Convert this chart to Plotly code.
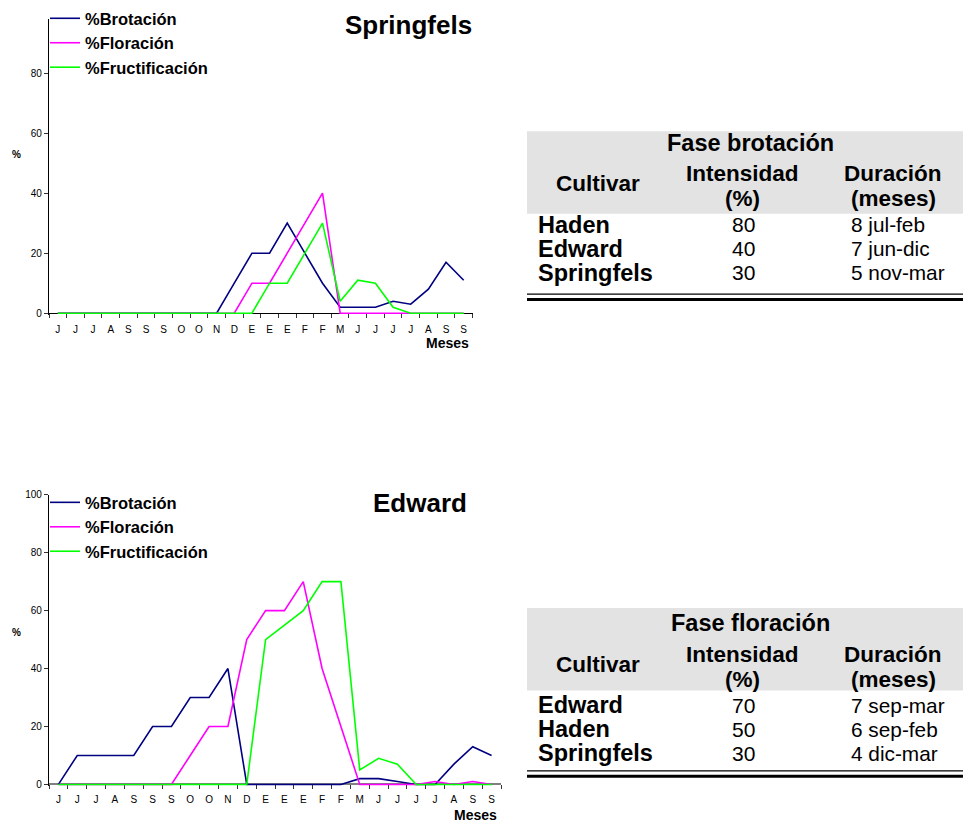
import plotly.graph_objects as go

W, H = 963, 823
FONT = "Liberation Sans, Arial, sans-serif"

# ---------------- data ----------------
months = ["J", "J", "J", "A", "S", "S", "S", "O", "O", "N", "D", "E",
          "E", "E", "F", "F", "M", "J", "J", "J", "J", "A", "S", "S"]
series_names = ["%Brotación", "%Floración", "%Fructificación"]

spr_brotacion = [0, 0, 0, 0, 0, 0, 0, 0, 0, 0, 10, 20, 20, 30, 20, 10, 2, 2, 2, 4, 3, 8, 17, 11]
spr_floracion = [0, 0, 0, 0, 0, 0, 0, 0, 0, 0, 0, 10, 10, 20, 30, 40, 0, 0, 0, 0, 0, 0, 0, 0]
spr_fructificacion = [0, 0, 0, 0, 0, 0, 0, 0, 0, 0, 0, 0, 10, 10, 20, 30, 4, 11, 10, 2, 0, 0, 0, 0]

edw_brotacion = [0, 10, 10, 10, 10, 20, 20, 30, 30, 40, 0, 0, 0, 0, 0, 0, 2, 2, 1, 0, 0, 7, 13, 10]
edw_floracion = [0, 0, 0, 0, 0, 0, 0, 10, 20, 20, 50, 60, 60, 70, 40, 20, 0, 0, 0, 0, 1, 0, 1, 0]
edw_fructificacion = [0, 0, 0, 0, 0, 0, 0, 0, 0, 0, 0, 50, 55, 60, 70, 70, 5, 9, 7, 0, 0, 0, 0, 0]

# tables
t1_title = "Fase brotación"
t1_cultivar = ["Haden", "Edward", "Springfels"]
t1_intensidad = ["80", "40", "30"]
t1_duracion = ["8 jul-feb", "7 jun-dic", "5 nov-mar"]

t2_title = "Fase floración"
t2_cultivar = ["Edward", "Haden", "Springfels"]
t2_intensidad = ["70", "50", "30"]
t2_duracion = ["7 sep-mar", "6 sep-feb", "4 dic-mar"]

col_headers = ["Cultivar", ["Intensidad", "(%)"], ["Duración", "(meses)"]]

colors = ["#000080", "#FF00FF", "#00FF00"]


def px(xp):
    return xp / W


def py(yp):
    return 1 - yp / H


fig = go.Figure()
xs = list(range(len(months)))

for vals, name, col in zip([spr_brotacion, spr_floracion, spr_fructificacion], series_names, colors):
    fig.add_trace(go.Scatter(x=xs, y=vals, mode="lines", name=name,
                             line=dict(color=col, width=1.6), xaxis="x", yaxis="y",
                             legend="legend"))
for vals, name, col in zip([edw_brotacion, edw_floracion, edw_fructificacion], series_names, colors):
    fig.add_trace(go.Scatter(x=xs, y=vals, mode="lines", name=name,
                             line=dict(color=col, width=1.6), xaxis="x2", yaxis="y2",
                             legend="legend2"))

tickfont = dict(family=FONT, size=10, color="black")
minor_vals = [i - 0.5 for i in range(len(months) + 1)]


def xaxis_cfg(left, right, zero_y, lcolor, lwidth, standoff):
    return dict(domain=[px(left), px(right)], range=[-0.5, len(months) - 0.5],
                tickmode="array", tickvals=xs, ticktext=months, ticks="",
                showline=True, linecolor=lcolor, linewidth=lwidth,
                showgrid=False, zeroline=False, tickfont=tickfont,
                ticklabelstandoff=standoff,
                anchor="free", position=py(zero_y), layer="below traces",
                minor=dict(tickmode="array", tickvals=minor_vals, ticks="outside",
                           ticklen=4, tickcolor="#333333", tickwidth=1),
                fixedrange=True)


def yaxis_cfg(anchor, bottom, top, rng, tickvals):
    return dict(domain=[py(bottom), py(top)], range=rng, anchor=anchor,
                tickmode="array", tickvals=tickvals, ticks="outside", ticklen=4,
                tickcolor="#333333", showline=True, linecolor="black", linewidth=1.2,
                showgrid=False, zeroline=False, tickfont=tickfont,
                layer="below traces", fixedrange=True)


# top chart: 0 at y=311, 80 at y=68
top_ppu = (311 - 68) / 80
bot_ppu = (788 - 494.7) / 100

layout_annotations = []


def ann(text, x, y, size, bold=False, xanchor="center", yanchor="middle"):
    layout_annotations.append(dict(
        text=("<b>%s</b>" % text) if bold else text, x=px(x), y=py(y),
        xref="paper", yref="paper", showarrow=False, xanchor=xanchor, yanchor=yanchor,
        font=dict(family=FONT, size=size, color="black"), borderpad=0))


# chart titles and labels
ann("Springfels", 473, 19, 26, True, xanchor="right")
ann("Edward", 468, 503, 26, True, xanchor="right")
ann("%", 16, 150, 10, True)
ann("%", 16, 634, 10, True)
ann("Meses", 470, 341, 14, True, xanchor="right")
ann("Meses", 498, 819, 14, True, xanchor="right")

shapes = []


def table(y_top, offs, title, cult, inten, dur):
    # y_top = top of gray header
    shapes.append(dict(type="rect", xref="paper", yref="paper", x0=px(527), x1=px(W),
                       y0=py(y_top + 83.5), y1=py(y_top), fillcolor="#e3e3e3",
                       line=dict(width=0), layer="below"))
    ann(title, 750, y_top + 13.5 + offs, 23.5, True)
    ann(col_headers[0], 597.5, y_top + 55 + offs, 22.5, True)
    ann(col_headers[1][0], 742, y_top + 45 + offs, 22.5, True)
    ann(col_headers[1][1], 742, y_top + 70 + offs, 22.5, True)
    ann(col_headers[2][0], 893, y_top + 45 + offs, 22.5, True)
    ann(col_headers[2][1], 893, y_top + 70 + offs, 22.5, True)
    for i in range(3):
        yy = y_top + 96.5 + i * 24.4 + offs
        ann(cult[i], 537, yy, 23.5, True, xanchor="left")
        ann(inten[i], 743, yy, 21)
        ann(dur[i], 850, yy, 20.8, xanchor="left")
    ly = y_top + 165
    shapes.append(dict(type="line", xref="paper", yref="paper", x0=px(527), x1=px(W),
                       y0=py(ly), y1=py(ly), line=dict(color="black", width=1.3)))
    shapes.append(dict(type="line", xref="paper", yref="paper", x0=px(527), x1=px(W),
                       y0=py(ly + 5.3), y1=py(ly + 5.3), line=dict(color="black", width=3)))


table(126.7, -2, t1_title, t1_cultivar, t1_intensidad, t1_duracion)
table(609.3, 2, t2_title, t2_cultivar, t2_intensidad, t2_duracion)

legend_font = dict(family=FONT, size=16.5, color="black", weight="bold")

fig.update_layout(
    width=W, height=H, margin=dict(l=0, r=0, t=0, b=0),
    paper_bgcolor="white", plot_bgcolor="white",
    xaxis=xaxis_cfg(49, 472.5, 311, "black", 1.2, 7),
    yaxis=yaxis_cfg("x", 311 + 0.6 * top_ppu, 13.3, [-0.6, 98], [0, 20, 40, 60, 80]),
    xaxis2=xaxis_cfg(49, 501, 788, "#808080", 2, 6),
    yaxis2=yaxis_cfg("x2", 788 + 0.6 * bot_ppu, 494.7, [-0.6, 100], [0, 20, 40, 60, 80, 100]),
    legend=dict(x=px(45), y=py(-5), xanchor="left", yanchor="top", font=legend_font,
                bgcolor="rgba(0,0,0,0)", itemwidth=30, tracegroupgap=0,
                itemclick=False, itemdoubleclick=False),
    legend2=dict(x=px(45), y=py(485), xanchor="left", yanchor="top", font=legend_font,
                 bgcolor="rgba(0,0,0,0)", itemwidth=30, tracegroupgap=0,
                 itemclick=False, itemdoubleclick=False),
    annotations=layout_annotations,
    shapes=shapes,
    showlegend=True,
    hovermode=False,
)

fig.write_html("out.html", config={"displayModeBar": False},
               post_script="document.body.style.margin='0';document.body.style.overflow='hidden';")
